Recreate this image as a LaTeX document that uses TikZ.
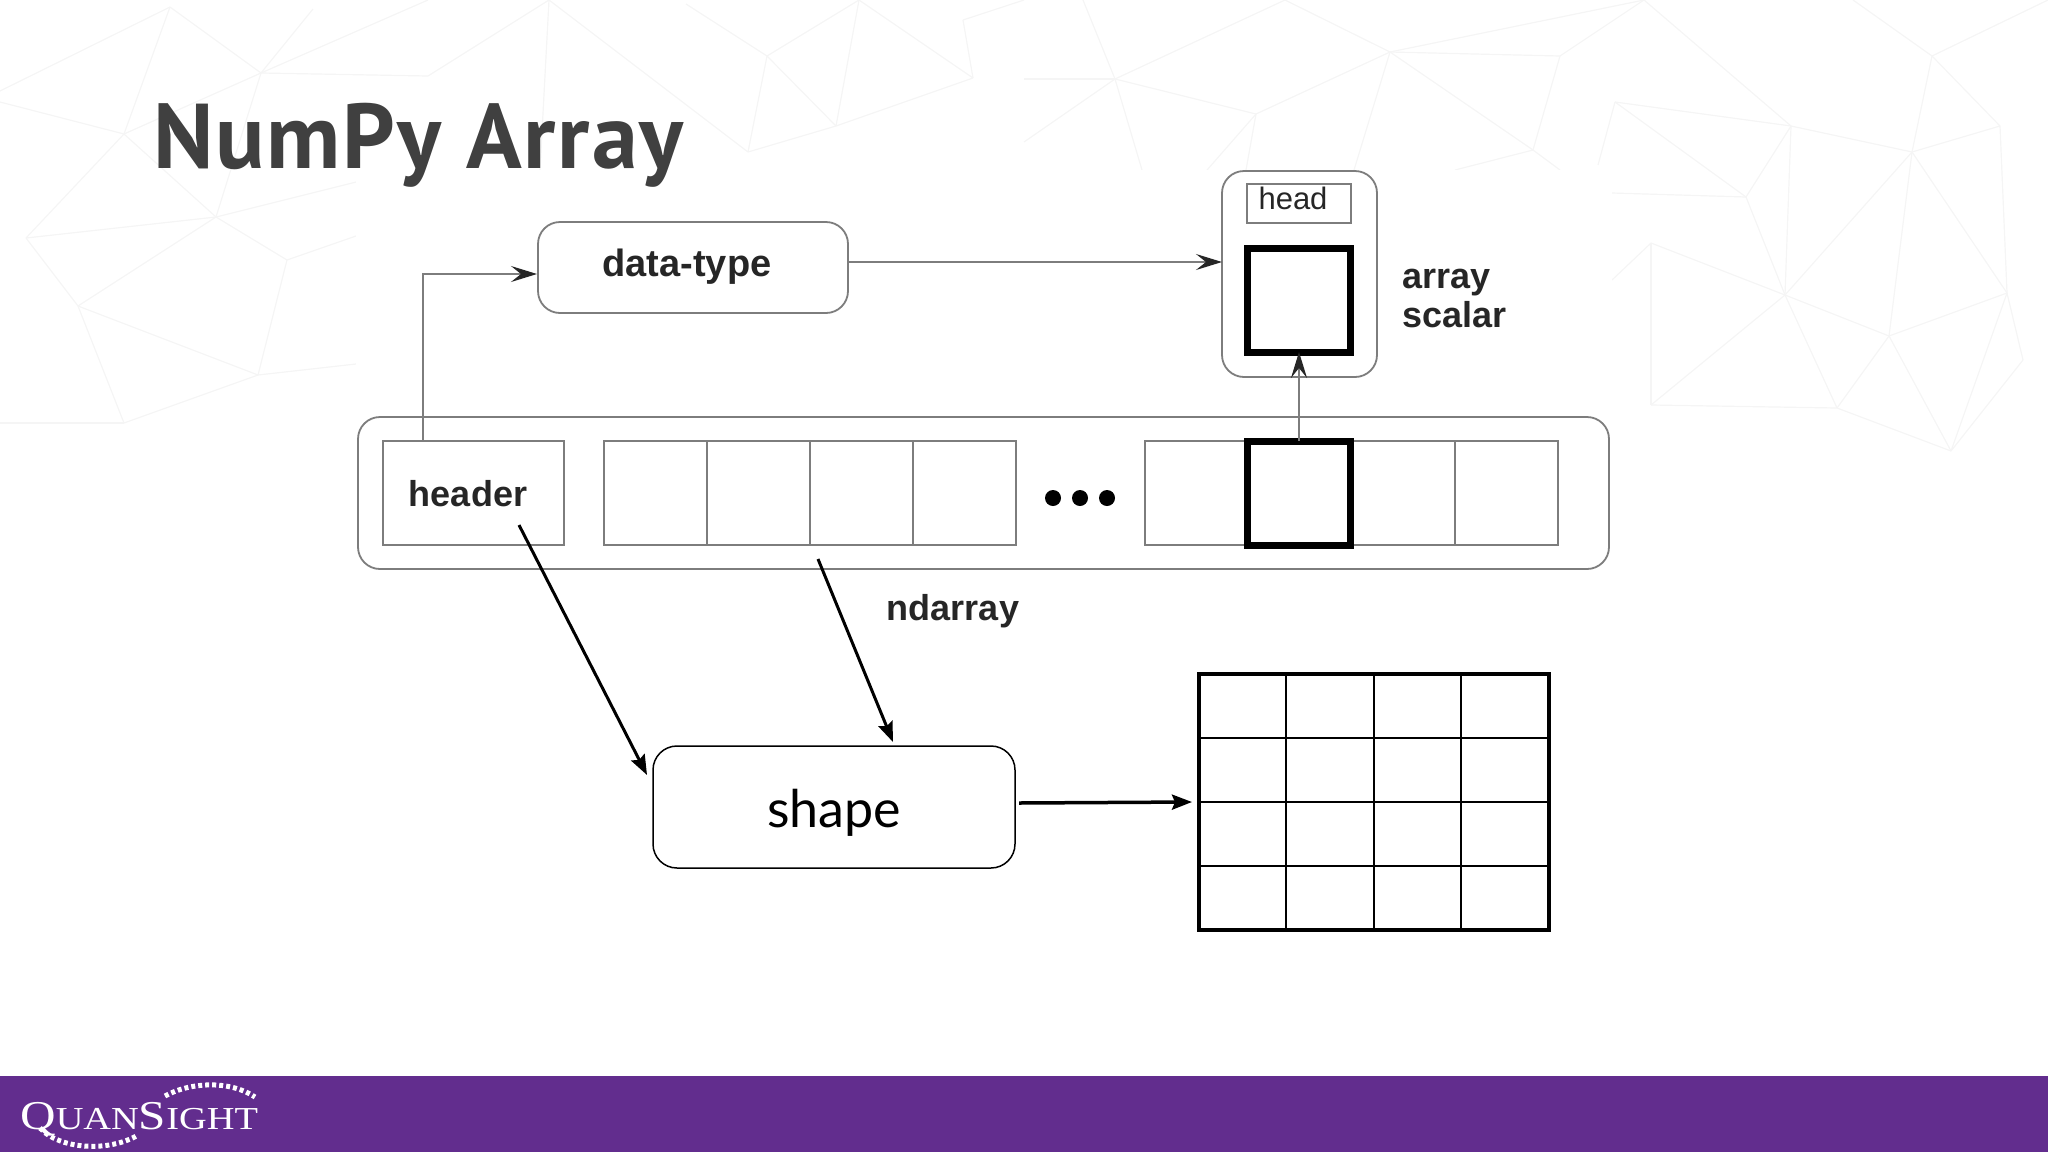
\documentclass[tikz,border=0pt]{standalone}
\usepackage{fontspec}
\setmainfont{Liberation Sans}
\newfontfamily\titlefont{PT Sans}
\newfontfamily\logofont{Liberation Serif}
\newfontfamily\shapefont{Lato}
\usetikzlibrary{arrows.meta}
\definecolor{bandPurple}{RGB}{98,45,142}
\definecolor{titleGray}{RGB}{64,64,64}
\definecolor{webGray}{RGB}{245,245,245}
\definecolor{boxGray}{RGB}{125,125,125}
\tikzset{
box/.style = {rectangle, draw=boxGray, line width=1.8pt, inner sep=0pt, outer sep=0pt},
roundbox/.style = {box, rounded corners=22pt},
thickbox/.style = {box, draw=black, line width=7pt},
lbl/.style = {inner sep=0pt, text=black!85, font=\fontsize{36}{39}\selectfont\bfseries},
dot/.style = {circle, fill, minimum size=#1, inner sep=0pt, outer sep=0pt},
dot/.default = 16pt,
grayarrow/.style = {draw=boxGray, line width=1.8pt, -{Stealth[length=26pt,width=16pt,inset=10pt,color=black!85]}},
blackarrow/.style = {draw=black, line width=3pt, -{Stealth[length=20pt,width=15pt,inset=3pt]}},
webline/.style = {draw=webGray, line width=1.2pt}
}

\begin{document}
\begin{tikzpicture}[x=1pt,y=-1pt]
    \useasboundingbox (0,0) rectangle (2048,1152);

    % background web
    \foreach \xa/\ya/\xb/\yb in {170/7/261/73, 261/73/313/9, 170/7/0/91, 170/7/124/134, 261/73/124/134,
        124/134/0/102, 261/73/428/76, 428/76/549/0, 261/73/428/0, 124/134/216/217, 261/73/216/217,
        216/217/356/182, 26/238/124/134, 26/238/78/306, 26/238/216/217, 78/306/216/217, 216/217/287/260,
        287/260/356/236, 287/260/258/375, 78/306/258/375, 258/375/356/364, 258/375/124/423, 124/423/0/423,
        124/423/78/306, 549/0/748/152, 549/0/540/170, 686/4/767/56, 767/56/836/126, 767/56/748/152,
        836/126/748/152, 859/0/767/56, 859/0/836/126, 859/0/973/78, 973/78/836/126, 963/20/973/78,
        963/20/1024/0, 1285/0/1115/79, 1285/0/1390/52, 1115/79/1256/114, 1390/52/1256/114, 1390/52/1560/56,
        1390/52/1644/0, 1644/0/1560/56, 1560/56/1533/150, 1533/150/1390/52, 1256/114/1207/170,
        1256/114/1246/170, 1533/150/1455/170, 1533/150/1560/170, 1115/79/1024/79, 1115/79/1024/142,
        1115/79/1142/170, 1083/0/1115/79, 1390/52/1354/170, 1644/0/1791/126, 1615/102/1791/126,
        1615/102/1598/165, 1615/102/1746/197, 1791/126/1746/197, 1791/126/1912/152, 1791/126/1785/295,
        1912/152/2000/126, 1912/152/1785/295, 1912/152/1889/336, 2000/126/2007/293, 2000/126/1932/56,
        1932/56/1912/152, 1932/56/1853/0, 1932/56/2048/0, 1785/295/1746/197, 1785/295/1651/243,
        1785/295/1889/336, 1889/336/2007/293, 1912/152/2007/293, 1889/336/1837/408, 1837/408/1785/295,
        1837/408/1651/405, 1837/408/1951/451, 1889/336/1951/451, 1651/405/1651/243, 1651/243/1612/280,
        1651/405/1785/295, 1612/193/1746/197, 2007/293/1951/451, 2007/293/2023/360, 2023/360/1951/451}
        \draw[webline] (\xa,\ya) -- (\xb,\yb);
    \fill[white] (356,170) rectangle (1612,640);

    \node[anchor=base west, inner sep=0pt, text=titleGray, font=\titlefont\fontsize{92}{92}\selectfont\bfseries\addfontfeature{LetterSpace=2}] (titleText) at (153,168) {NumPy Array};

    \node[roundbox, minimum width=310pt, minimum height=91pt] (typeBox) at (693,267.5) {};
    \node[lbl, font=\fontsize{38}{39}\selectfont\bfseries] (typeLabel) at (687,267) {data-type};

    \node[roundbox, minimum width=155pt, minimum height=206pt] (scalarBox) at (1299.5,274) {};
    \node[box, minimum width=104pt, minimum height=39pt] (headBox) at (1299,203.5) {};
    \node[lbl, font=\fontsize{31}{31}\selectfont] (headLabel) at (1293,198) {head};
    \node[thickbox, minimum width=103pt, minimum height=104pt] (scalarCell) at (1299,300) {};
    \node[lbl, anchor=west, align=left] (scalarLabel) at (1402,298) {array\\scalar};

    \node[roundbox, minimum width=1251pt, minimum height=152pt] (arrayBox) at (983.5,493) {};
    \node[box, minimum width=181pt, minimum height=104pt] (headerBox) at (473.5,493) {};
    \node[lbl] (headerLabel) at (468,494) {header};
    \foreach \cx/\cname in {655.5/cellA, 758.5/cellB, 861.5/cellC, 964.5/cellD, 1196.5/cellE, 1403/cellF, 1506.5/cellG}
        \node[box, minimum width=103.5pt, minimum height=104pt] (\cname) at (\cx,493) {};
    \node[thickbox, minimum width=103pt, minimum height=104pt] (arrayCell) at (1299,493) {};
    \foreach \cx/\cname in {1053/dotA, 1080/dotB, 1107/dotC}
        \node[dot] (\cname) at (\cx,498) {};
    \node[lbl] (arrayLabel) at (953,611) {ndarray};

    \node[draw=black, line width=1.5pt, rounded corners=24pt, minimum width=362pt, minimum height=122pt, inner sep=0pt, outer sep=0pt] (shapeBox) at (834,807) {};
    \node[inner sep=0pt, font=\shapefont\fontsize{52}{52}\selectfont] (shapeLabel) at (834,813) {shape};

    % grid
    \node[draw=black, line width=4pt, minimum width=350pt, minimum height=256pt, inner sep=0pt, outer sep=0pt] (gridBox) at (1374,802) {};
    \foreach \gx in {1286,1374,1461}
        \draw[line width=2pt] (\gx,674) -- (\gx,930);
    \foreach \gy in {738,802,866}
        \draw[line width=2pt] (1199,\gy) -- (1549,\gy);

    % connectors
    \coordinate (headerTap) at (423,441);
    \coordinate (typeIn) at (537,274);
    \coordinate (typeOut) at (848,262);
    \coordinate (scalarIn) at (1222,262);
    \coordinate (arrayTap) at (1299,441);
    \coordinate (headerFoot) at (519,525);
    \coordinate (shapeIn) at (647,775);
    \coordinate (arrayFoot) at (818,559);
    \coordinate (shapeTop) at (893,742);
    \coordinate (shapeOut) at (1019,803);
    \coordinate (gridIn) at (1192,802);

    \draw[grayarrow] (headerTap) |- (typeIn);
    \draw[grayarrow] (typeOut) -- (scalarIn);
    \draw[grayarrow] (arrayTap) -- (scalarCell.south);
    \draw[blackarrow] (headerFoot) -- (shapeIn);
    \draw[blackarrow] (arrayFoot) -- (shapeTop);
    \draw[blackarrow, line width=3.5pt] (shapeOut) -- (gridIn);

    % footer band
    \fill[bandPurple] (0,1076) rectangle (2048,1152);
    \node[anchor=base west, inner sep=0pt, text=white, xscale=1.2, transform shape, font=\logofont] (logoText) at (20,1129)
        {\fontsize{41}{41}\selectfont Q\fontsize{32}{32}\selectfont UAN\fontsize{41}{41}\selectfont S\fontsize{32}{32}\selectfont IGHT};
    \draw[white, line width=5pt, dash pattern=on 4pt off 3pt] (165,1096) .. controls (190,1082) and (230,1080) .. (255,1097);
    \draw[white, line width=5pt, dash pattern=on 4pt off 3pt] (40,1128) .. controls (60,1150) and (110,1152) .. (138,1135);
\end{tikzpicture}
\end{document}
